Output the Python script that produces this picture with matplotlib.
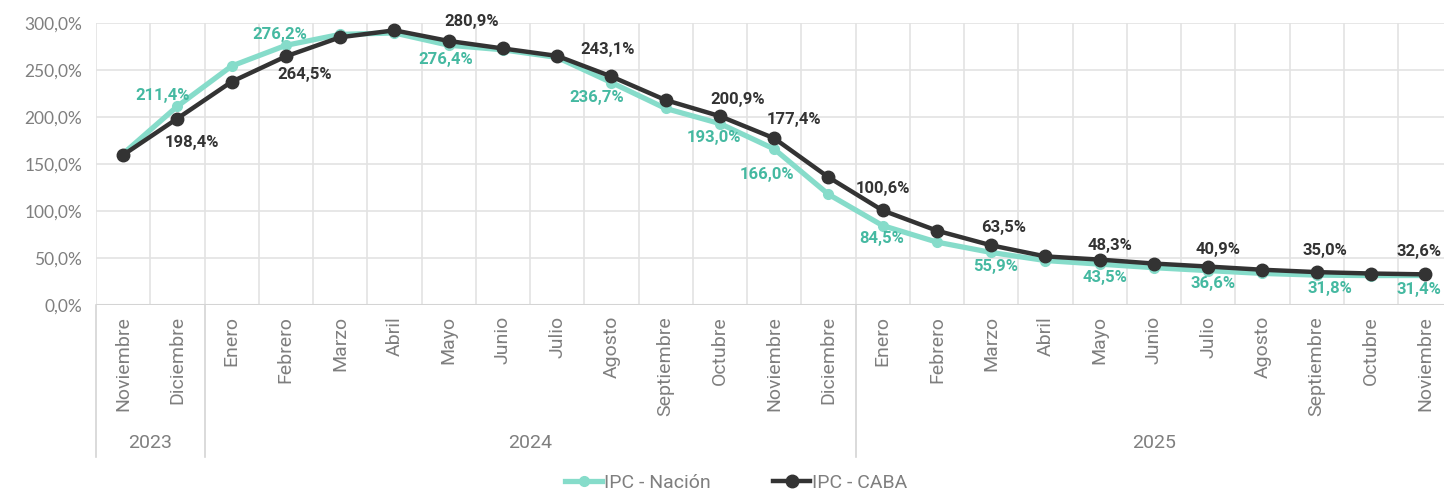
import matplotlib
matplotlib.use('Agg')
from matplotlib import pyplot as plt
from matplotlib.lines import Line2D
import matplotlib.transforms as mtransforms

# data
meses = ['Noviembre', 'Diciembre',
         'Enero', 'Febrero', 'Marzo', 'Abril', 'Mayo', 'Junio', 'Julio',
         'Agosto', 'Septiembre', 'Octubre', 'Noviembre', 'Diciembre',
         'Enero', 'Febrero', 'Marzo', 'Abril', 'Mayo', 'Junio', 'Julio',
         'Agosto', 'Septiembre', 'Octubre', 'Noviembre']
anios = ['2023', '2024', '2025']
meses_por_anio = [2, 12, 11]

ipc_nacion = [160.9, 211.4, 254.2, 276.2, 287.9, 289.4, 276.4, 271.5, 263.4,
              236.7, 209.1, 193.0, 166.0, 117.8, 84.5, 66.9, 55.9, 47.3,
              43.5, 39.7, 36.6, 33.6, 31.8, 31.3, 31.4]
ipc_caba = [159.6, 198.4, 237.5, 264.5, 284.8, 292.2, 280.9, 272.9, 265.0,
            243.1, 218.0, 200.9, 177.4, 136.0, 100.6, 79.1, 63.5, 51.7,
            48.3, 44.1, 40.9, 37.5, 35.0, 33.5, 32.6]

# which points get a label, and label offsets in pixels (dx, dy)
idx_etiquetas = [1, 3, 6, 9, 11, 12, 14, 16, 18, 20, 22, 24]
off_nacion = [(-15, 11), (-6, 11), (-3, -14), (-15, -15), (-6, -14), (-7, -26),
              (-1, -13), (4, -14), (5, -13), (5, -13), (13, -13), (-6, -14)]
off_caba = [(15, -24), (19, -18), (23, 19), (-4, 27), (18, 17), (20, 19),
            (0, 22), (12, 18), (10, 14), (10, 17), (8, 22), (-6, 23)]

c_nacion = '#86dcca'
c_nacion_txt = '#45b9a1'
c_caba = '#333333'
c_gris = '#7f7f7f'
c_grid = '#e3e3e3'
narrow = ['Liberation Sans Narrow', 'Roboto']

def fmt(v):
    return ('%.1f%%' % v).replace('.', ',')

fig = plt.figure(figsize=(14.44, 4.9), dpi=100)
ax = fig.add_axes([96/1444, 1-305/490, 1-96/1444, 282/490])

x = list(range(len(meses)))
ax.plot(x, ipc_nacion, color=c_nacion, lw=3.8, marker='o', ms=7, zorder=3,
        solid_capstyle='round')
ax.plot(x, ipc_caba, color=c_caba, lw=3.2, marker='o', ms=9, zorder=4,
        solid_capstyle='round')

lab_font = dict(fontsize=12, fontweight='bold', family=['Roboto', 'DejaVu Sans'],
                ha='center', va='center', zorder=6)
for k, i in enumerate(idx_etiquetas):
    ax.annotate(fmt(ipc_nacion[i]), (i, ipc_nacion[i]), xytext=off_nacion[k],
                textcoords='offset pixels', color=c_nacion_txt, **lab_font)
    ax.annotate(fmt(ipc_caba[i]), (i, ipc_caba[i]), xytext=off_caba[k],
                textcoords='offset pixels', color=c_caba, **lab_font)

ax.set_ylim(0, 300)
ax.set_xlim(-0.5, (1444-96)/54.25 - 0.5)
ax.set_yticks(range(0, 301, 50))
ax.set_yticklabels([fmt(v) for v in range(0, 301, 50)], color=c_gris,
                   fontsize=12.5, family=['Lato', 'DejaVu Sans'])
ax.set_xticks(x)
ax.set_xticklabels(meses, rotation=90, va='top', ha='center', color=c_gris,
                   fontsize=14, family=narrow)
ax.tick_params(axis='both', length=0)
ax.tick_params(axis='x', pad=8)
ax.tick_params(axis='y', pad=10)

for s in ax.spines.values():
    s.set_visible(False)
ax.grid(axis='y', color=c_grid, lw=1.2)
for i in range(len(meses)):
    ax.axvline(i + 0.5, color=c_grid, lw=1.2, zorder=0)
ax.axvline(-0.5, color=c_grid, lw=1.2, zorder=0)
ax.axhline(0, color='#d4d4d4', lw=1.5, zorder=1)
ax.set_axisbelow(True)

# year level of the category axis
trans = mtransforms.blended_transform_factory(ax.transData, ax.transAxes)
inicio = -0.5
for anio, n in zip(anios, meses_por_anio):
    ax.plot([inicio, inicio], [0, -0.54], transform=trans, color='#d4d4d4',
            lw=1.2, clip_on=False)
    ax.text(inicio + n/2, -0.49, anio, transform=trans, ha='center', va='center',
            color=c_gris, fontsize=14, family=narrow)
    inicio += n

handles = [Line2D([], [], color=c_nacion, lw=3.8, marker='o', ms=7),
           Line2D([], [], color=c_caba, lw=3.2, marker='o', ms=9)]
fig.legend(handles, ['IPC - Nación', 'IPC - CABA'], loc='center',
           bbox_to_anchor=(0.51, 1-483/490), ncol=2, frameon=False,
           handlelength=1.9, handletextpad=0.1, columnspacing=3.2,
           prop=dict(family=narrow, size=14), labelcolor=c_gris)

fig.savefig('out.png', dpi=100)
